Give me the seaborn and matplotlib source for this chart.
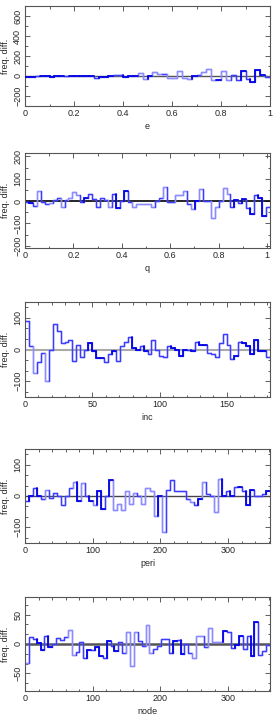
import numpy as np
import seaborn as sns
import matplotlib.pyplot as plt
from matplotlib.ticker import MultipleLocator, AutoMinorLocator

# frequency differences per bin
e_diff = [-5, -5, 5, 0, 0, -5, 0, 0, 5, 0, 0, 0, 0,
          5, -20, -10, -10, 0, 10, 15, -10, 0, 0,
          35, -30, 0, 40, 20, 20, -20, -20, 50, -20, -30, 0,
          15, 40, 70, -40, -40, 50, -40, 10, -35, 55, -30, -55, 60, 10, -5]
e_sig = [0, 0, 1, 0, 0, 0, 0, 0, 1, 0, 0, 0, 0,
         0, 1, 0, 0, 0, 1, 1, 0, 0, 0,
         2, 2, 0, 2, 2, 1, 2, 2, 2, 2, 2, 0,
         1, 2, 2, 2, 0, 2, 2, 1, 1, 0, 1, 0, 0, 0, 1]

q_diff = [-5, -10, -20, 45, -5, -15, -10, 5, 15, -25, 5, 15, 40, 25, -5, 15, 30,
          10, -25, 15, 5, -25, 30, -30, 0, 45, -5, -25, -15, -15, -15, -15, -25,
          0, 15, 65, -5, -5, 25, 25, 45, -15, -35, 0, 55, 0, 0, -75, -25, 0, 60,
          30, -25, 5, -10, 10, -30, -60, 25, 15, -65, -25]
q_sig = [1, 0, 1, 2, 1, 1, 2, 1, 1, 2, 1, 2, 2, 2, 1, 0, 1,
         1, 1, 1, 1, 2, 1, 0, 1, 0, 1, 2, 2, 2, 2, 2, 2,
         1, 1, 2, 1, 1, 2, 2, 2, 1, 2, 0, 2, 1, 1, 2, 2, 1, 2,
         2, 1, 0, 1, 0, 1, 0, 1, 0, 0, 1]

inc_diff = [90, 10, -75, -40, -10, -100, 0, 80, 60, 20, 25, 30, -35, 15, -25, 0,
            22, -5, -28, -28, -40, -15, -5, -35, 10, 25, 40, 5, 0, 10, -5, -15,
            30, 0, -20, -25, 10, 5, 0, -20, 0, 0, -5, 25, 15, 15, -10, -15, -25,
            20, 50, 15, -30, -20, 25, 20, 10, -15, 30, -5, -5, -25]
inc_sig = [1, 1, 2, 1, 1, 2, 1, 1, 1, 1, 1, 1, 1, 1, 1, 1,
           0, 0, 0, 0, 1, 1, 0, 1, 1, 1, 1, 0, 0, 1, 0, 1,
           1, 1, 1, 1, 1, 0, 0, 0, 0, 1, 0, 1, 0, 0, 1, 1, 1,
           1, 1, 1, 1, 0, 1, 0, 0, 0, 0, 0, 0, 1]

peri_diff = [-15, 0, 25, 0, -10, 20, -5, 8, 0, -30, 0, 25, 45, -15, 40, 0, -15,
             -30, 15, -40, 0, 50, -45, -25, -45, 15, -25, 10, 0, -25, 25, 15, -65,
             0, -115, 20, 50, 15, 15, 15, -10, -20, -30, -10, 45, 5, 0, -50, 55,
             0, 15, 0, 30, 30, 15, -30, 20, 0, 0, 5, 15]
peri_sig = [1, 0, 1, 0, 1, 2, 1, 1, 1, 1, 1, 1, 2, 0, 2, 1, 0,
            2, 0, 0, 1, 0, 2, 2, 2, 2, 2, 2, 1, 2, 2, 2, 2,
            0, 2, 1, 1, 1, 1, 1, 1, 2, 1, 0, 2, 1, 1, 2, 2,
            0, 1, 0, 1, 0, 1, 0, 0, 1, 1, 1, 0]

node_diff = [-32, 12, 9, 2, -10, 13, -5, 0, 10, 6, 12, 24, -18, -13, 3, -23, -10,
             -10, -5, -20, -23, 5, -3, -12, 3, -15, 20, -37, 21, 5, -3, 33, -15,
             -8, -3, 9, 8, -15, 5, 7, -17, 0, -15, -23, 13, 13, -5, 27, 3, 3, 3,
             22, 20, -7, -2, 13, -8, 13, -20, 37, -18, -12, -2]
node_sig = [2, 1, 1, 0, 0, 1, 0, 1, 1, 1, 1, 2, 2, 1, 1, 1, 0,
            1, 0, 0, 1, 0, 1, 0, 1, 1, 2, 2, 2, 1, 1, 2, 2,
            1, 1, 1, 1, 1, 0, 1, 0, 1, 1, 2, 2, 2, 1, 2, 2, 2, 2,
            0, 1, 1, 0, 0, 1, 1, 0, 0, 1, 1, 1]

panels = [
    ("e", e_diff, e_sig, (0, 1.0), (-300, 700), 0.2, 2, 200, 2, "#555555", 1.0),
    ("q", q_diff, q_sig, (0, 1.012), (-210, 215), 0.2, 2, 100, 2, "black", 1.2),
    ("inc", inc_diff, inc_sig, (0, 182), (-150, 150), 50, 5, 100, 3, "#aaaaaa", 1.5),
    ("peri", peri_diff, peri_sig, (0, 362), (-150, 150), 100, 5, 100, 3, "#444444", 1.0),
    ("node", node_diff, node_sig, (0, 362), (-80, 80), 100, 5, 50, 3, "#555555", 1.8),
]

# dark / medium / light blue for the step segments
shades = {0: ("#0000e6", 1.3), 1: ("#3c3cff", 1.0), 2: ("#8c8cff", 1.0)}

sns.set_style("ticks")
plt.rcParams['font.family'] = ['Liberation Sans', 'DejaVu Sans']
plt.rcParams['font.size'] = 6.5

fig = plt.figure(figsize=(2.74, 7.19), dpi=100)
boxes = [(6, 106), (153, 248), (302, 397), (449, 543), (597, 691)]

for (name, diff, sig, xlim, ylim, xmaj, xmin, ymaj, ymin, zcol, zlw), (top, bot) in zip(panels, boxes):
    ax = fig.add_axes([25 / 274, 1 - bot / 719, 245 / 274, (bot - top) / 719])
    diff = np.asarray(diff, dtype=float)
    edges = np.linspace(xlim[0], xlim[1], len(diff) + 1)

    ax.axhline(0, color=zcol, lw=zlw, zorder=1)
    # light base line, then each bin redrawn in its own shade
    sns.lineplot(x=edges, y=np.append(diff, diff[-1]), drawstyle="steps-post",
                 color=shades[2][0], lw=1.0, ax=ax, zorder=2)
    prev = diff[0]
    for i, v in enumerate(diff):
        col, lw = shades[sig[i]]
        ax.plot([edges[i], edges[i], edges[i + 1]], [prev, v, v], color=col, lw=lw,
                solid_joinstyle="miter", zorder=3 if sig[i] == 0 else 2.5)
        prev = v

    ax.set_xlim(*xlim)
    ax.set_ylim(*ylim)
    ax.xaxis.set_major_locator(MultipleLocator(xmaj))
    ax.xaxis.set_minor_locator(AutoMinorLocator(xmin))
    ax.yaxis.set_major_locator(MultipleLocator(ymaj))
    ax.yaxis.set_minor_locator(AutoMinorLocator(ymin))
    ax.tick_params(which="both", direction="in", top=True, right=True,
                   color="#444444", width=0.6, pad=2)
    ax.tick_params(which="major", length=3.5)
    ax.tick_params(which="minor", length=1.8)
    for lab in ax.get_yticklabels():
        lab.set_rotation(90)
        lab.set_va("center")
    if name in ("e", "q"):
        ax.xaxis.set_major_formatter(plt.FuncFormatter(lambda v, p: f"{v:g}"))
    for sp in ax.spines.values():
        sp.set_color("#555555")
        sp.set_linewidth(0.8)
    ax.set_xlabel(name, labelpad=3)
    ax.set_ylabel("freq. diff.", labelpad=2)

fig.savefig("out.png", dpi=100)
